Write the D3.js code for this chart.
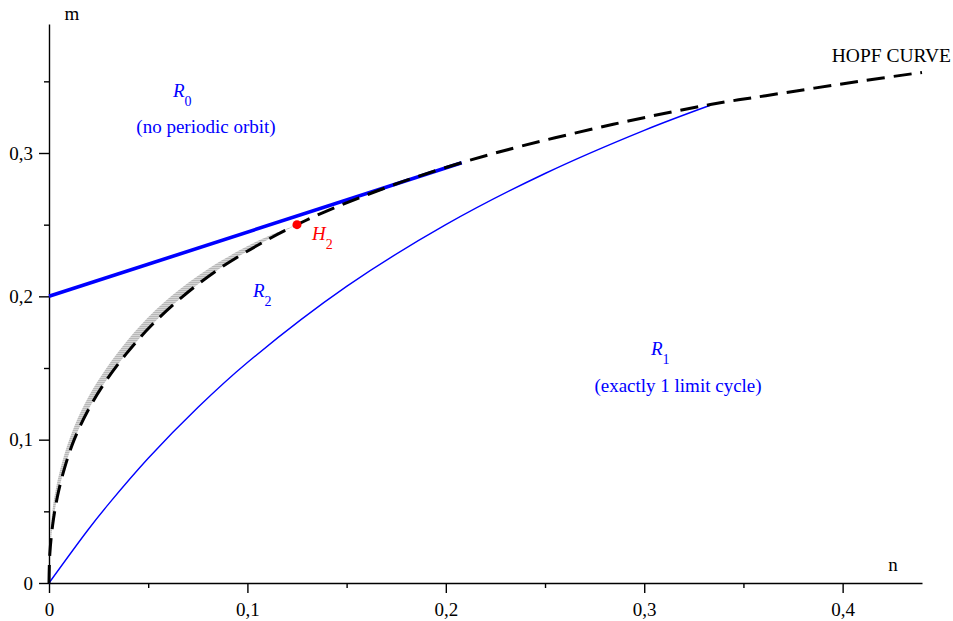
<!DOCTYPE html>
<html>
<head>
<meta charset="utf-8">
<script src="https://cdn.jsdelivr.net/npm/d3@7"></script>
<style>
body { margin: 0; background: #fff; }
svg { display: block; font-family: "Liberation Serif", "Times New Roman", serif; }
</style>
</head>
<body>
<div id="chart"></div>
<script>
// Hopf curve (black dashed)
var hopfN = [0, 0.0004, 0.0018, 0.0042, 0.0078, 0.0127, 0.0195, 0.0282, 0.039, 0.0518, 0.0675, 0.0866, 0.1108, 0.125, 0.1408, 0.1782, 0.225, 0.2844, 0.3333, 0.3613, 0.4083, 0.44];
var hopfM = [0, 0.02, 0.04, 0.06, 0.08, 0.10, 0.12, 0.14, 0.16, 0.18, 0.20, 0.22, 0.24, 0.25, 0.26, 0.28, 0.30, 0.32, 0.3338, 0.34, 0.35, 0.3562];

// upper edge of the grey band (lower edge is the Hopf curve up to H2)
var bandN = [0.0004, 0.001, 0.0027, 0.0058, 0.0102, 0.0162, 0.0242, 0.0342, 0.0463, 0.0615, 0.0811, 0.1073, 0.125];
var bandM = [0.025, 0.04, 0.06, 0.08, 0.10, 0.12, 0.14, 0.16, 0.18, 0.20, 0.22, 0.24, 0.25];

// thin blue curve from origin to (1/3,1/3)
var thinN = [0, 0.02, 0.03, 0.05, 0.075, 0.1, 0.15, 0.2, 0.25, 0.3, 0.3333];
var thinM = [0, 0.0377, 0.055, 0.087, 0.1224, 0.1538, 0.2069, 0.25, 0.2857, 0.3158, 0.3333];

// thick blue line
var lineN = [0, 0.208];
var lineM = [0.2, 0.2932];

// H2 point
var h2 = [0.125, 0.25];

var xMajor = [0, 0.1, 0.2, 0.3, 0.4];
var xMinor = [0.05, 0.15, 0.25, 0.35];
var yMajor = [0, 0.1, 0.2, 0.3];
var yMinor = [0.05, 0.15, 0.25, 0.35];

var W = 953, H = 621;
var svg = d3.select("#chart").append("svg").attr("width", W).attr("height", H);

var x = d3.scaleLinear().domain([0, 0.44]).range([49, 922]);
var y = d3.scaleLinear().domain([0, 0.39]).range([583, 24]);

function fmt(d) { return d === 0 ? "0" : d3.format(".1f")(d).replace(".", ","); }
function pts(a, b) { return a.map(function (v, i) { return [v, b[i]]; }); }

var line = d3.line().x(function (d) { return x(d[0]); }).y(function (d) { return y(d[1]); })
  .curve(d3.curveCatmullRom.alpha(0.5));

// hatch pattern for the grey band
var pat = svg.append("defs").append("pattern").attr("id", "hatch")
  .attr("patternUnits", "userSpaceOnUse").attr("width", 3).attr("height", 2);
pat.append("rect").attr("width", 3).attr("height", 2).attr("fill", "#d6d6d6");
pat.append("rect").attr("width", 3).attr("height", 1).attr("fill", "#b8b8b8");

// axes
svg.append("g").attr("transform", "translate(0," + y(0) + ")")
  .call(d3.axisBottom(x).tickValues(xMajor).tickSize(10).tickSizeOuter(0).tickPadding(10).tickFormat(fmt));
svg.append("g").attr("transform", "translate(0," + y(0) + ")")
  .call(d3.axisBottom(x).tickValues(xMinor).tickSize(5).tickFormat(""))
  .call(function (g) { g.select(".domain").remove(); });
svg.append("g").attr("transform", "translate(" + x(0) + ",0)")
  .call(d3.axisLeft(y).tickValues(yMajor).tickSize(10).tickSizeOuter(0).tickPadding(6).tickFormat(fmt));
svg.append("g").attr("transform", "translate(" + x(0) + ",0)")
  .call(d3.axisLeft(y).tickValues(yMinor).tickSize(5).tickFormat(""))
  .call(function (g) { g.select(".domain").remove(); });

svg.selectAll(".tick text").attr("font-size", 19).attr("font-family", "Liberation Serif, serif").attr("fill", "#000");
svg.selectAll(".domain, .tick line").attr("stroke", "#000").attr("stroke-width", 1.4);

svg.append("text").attr("x", 72).attr("y", 20).attr("text-anchor", "middle").attr("font-size", 19).text("m");
svg.append("text").attr("x", 893).attr("y", 571).attr("text-anchor", "middle").attr("font-size", 19).text("n");

// grey band between upper curve and Hopf curve
var lower = pts(hopfN, hopfM).filter(function (d) { return d[1] >= 0.02 && d[0] <= 0.125; });
var upper = pts(bandN, bandM);
var area = line(upper) + "L" + line(lower.slice().reverse()).slice(1) + "Z";
svg.append("path").attr("d", area).attr("fill", "url(#hatch)").attr("stroke", "none");

// thin blue curve
svg.append("path").attr("d", line(pts(thinN, thinM)))
  .attr("fill", "none").attr("stroke", "#0000ff").attr("stroke-width", 1.4);

// thick blue line
svg.append("path").attr("d", line(pts(lineN, lineM)))
  .attr("fill", "none").attr("stroke", "#0000ff").attr("stroke-width", 3.6);

// Hopf curve
svg.append("path").attr("d", line(pts(hopfN, hopfM)))
  .attr("fill", "none").attr("stroke", "#000").attr("stroke-width", 3).attr("stroke-dasharray", "18,9");

// H2 point
svg.append("circle").attr("cx", x(h2[0])).attr("cy", y(h2[1])).attr("r", 4.5).attr("fill", "#ff0000");

// region labels
function subLabel(px, py, main, sub, color) {
  var t = svg.append("text").attr("x", px).attr("y", py).attr("fill", color).attr("font-size", 19);
  t.append("tspan").attr("font-style", "italic").text(main);
  t.append("tspan").attr("font-size", 14).attr("dy", 9).text(sub);
}
subLabel(173, 97, "R", "0", "#0000ff");
subLabel(651, 355, "R", "1", "#0000ff");
subLabel(253, 297, "R", "2", "#0000ff");
subLabel(312, 240, "H", "2", "#ff0000");

svg.append("text").attr("x", 206).attr("y", 133).attr("text-anchor", "middle").attr("font-size", 19)
  .attr("fill", "#0000ff").text("(no periodic orbit)");
svg.append("text").attr("x", 678).attr("y", 392).attr("text-anchor", "middle").attr("font-size", 19)
  .attr("fill", "#0000ff").text("(exactly 1 limit cycle)");
svg.append("text").attr("x", 951).attr("y", 62).attr("text-anchor", "end").attr("font-size", 19.5)
  .text("HOPF CURVE");
</script>
</body>
</html>
